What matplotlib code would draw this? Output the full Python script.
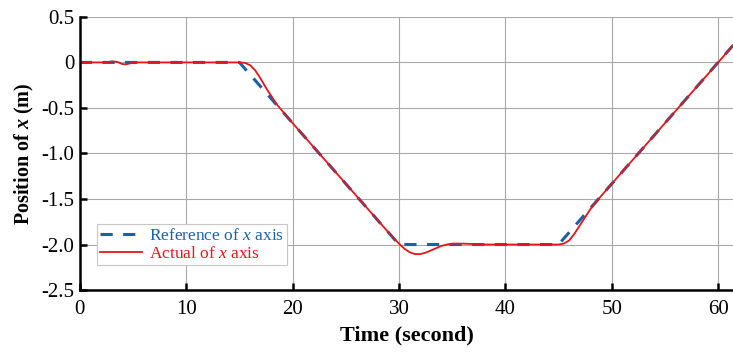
import numpy as np
import matplotlib
matplotlib.use("Agg")
from matplotlib import pyplot as plt
from matplotlib.ticker import FixedLocator, FixedFormatter


# reference trajectory (corner points)
ref_t = [0, 15, 30, 45, 61.5]
ref_x = [0, 0, -2.0, -2.0, 0.2]

# actual trajectory
act_t = [0, 2.5, 3.0, 3.5, 4.0, 4.3, 4.8, 5.5, 15.0, 15.5, 16.0, 16.5, 17.0, 17.5,
         18.0, 18.5, 20.0, 25.0, 28.5, 29.0, 29.5, 30.0, 30.5, 31.0, 31.5, 32.0,
         32.5, 33.0, 33.5, 34.0, 34.5, 35.0, 36.0, 38.0, 45.0, 45.5, 46.0, 46.5,
         47.0, 47.5, 48.0, 48.5, 49.0, 50.0, 55.0, 61.5]
act_x = [0, 0, 0.012, 0.006, -0.018, -0.022, -0.008, 0, 0, -0.005, -0.03, -0.09,
         -0.18, -0.28, -0.37, -0.46, -0.667, -1.333, -1.80, -1.865, -1.93, -1.99,
         -2.045, -2.085, -2.105, -2.105, -2.09, -2.065, -2.04, -2.015, -2.0,
         -1.99, -1.99, -2.0, -2.0, -1.99, -1.955, -1.88, -1.79, -1.70, -1.61,
         -1.535, -1.467, -1.333, -0.667, 0.2]

x_ticks = [0, 10, 20, 30, 40, 50, 60]
y_ticks = [0.5, 0, -0.5, -1.0, -1.5, -2.0, -2.5]
y_labels = ["0.5", "0", "-0.5", "-1.0", "-1.5", "-2.0", "-2.5"]

BLUE = "#1a62a8"
RED = "#e3161b"

plt.rcParams["font.family"] = ["Liberation Serif", "DejaVu Serif"]
plt.rcParams["mathtext.fontset"] = "custom"
plt.rcParams["mathtext.it"] = "Liberation Serif:italic"
plt.rcParams["mathtext.bfit"] = "Liberation Serif:italic:bold"

fig = plt.figure(figsize=(7.33, 3.52), dpi=100)
ax = fig.add_axes([0.109, 0.176, 0.891, 0.776])

ax.plot(ref_t, ref_x, color=BLUE, lw=2.2, dashes=(4, 3.4), label="Reference of $\\mathit{x}$ axis")
ax.plot(act_t, act_x, color=RED, lw=1.3, label="Actual of $\\mathit{x}$ axis")

ax.set_xlim(0, 61.4)
ax.set_ylim(-2.5, 0.5)
ax.xaxis.set_major_locator(FixedLocator(x_ticks))
ax.yaxis.set_major_locator(FixedLocator(y_ticks))
ax.yaxis.set_major_formatter(FixedFormatter(y_labels))
ax.grid(True, color="#a8a8a8", lw=0.8)
ax.set_axisbelow(True)

for side in ("top", "right"):
    ax.spines[side].set_visible(False)
for side in ("left", "bottom"):
    ax.spines[side].set_linewidth(1.8)
ax.tick_params(direction="in", length=5, width=1.8, labelsize=15)
ax.tick_params(axis="x", pad=7)
ax.tick_params(axis="y", pad=4)

ax.set_xlabel("Time (second)", fontsize=16, fontweight="bold", labelpad=5)
ax.set_ylabel(r"Position of $\mathbfit{x}$ (m)", fontsize=14.5, fontweight="bold", labelpad=4)

leg = ax.legend(loc="upper left", bbox_to_anchor=(0.026, 0.24), fontsize=12.5,
                frameon=True, fancybox=False, framealpha=1, edgecolor="#c8c8c8",
                handlelength=2.4, handletextpad=0.4, borderpad=0.2, labelspacing=0.1,
                borderaxespad=0)
leg.get_frame().set_linewidth(0.8)
for txt, col in zip(leg.get_texts(), [BLUE, RED]):
    txt.set_color(col)

fig.savefig("out.png", dpi=100)
